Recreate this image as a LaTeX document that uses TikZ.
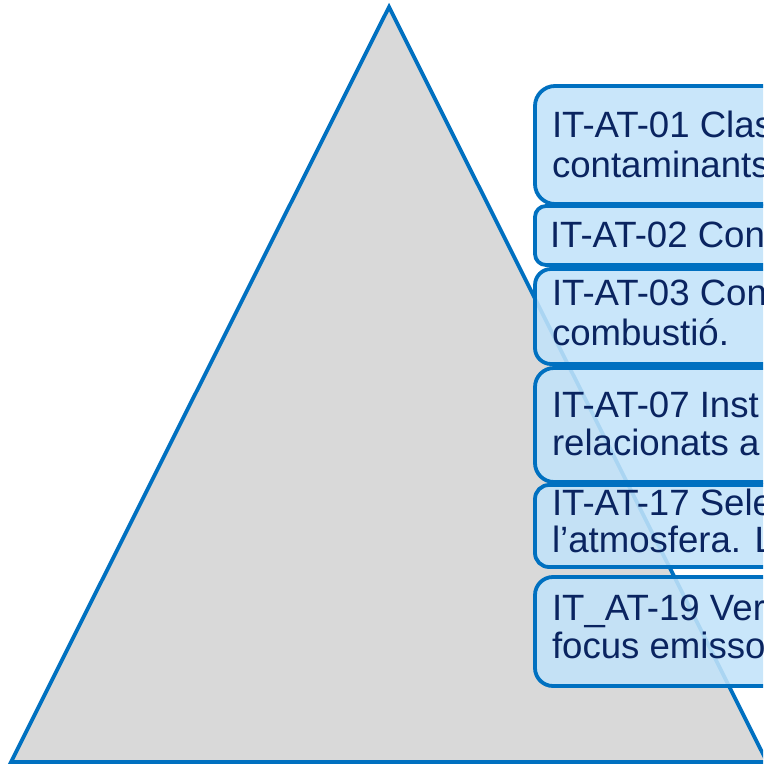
\documentclass[tikz,border=0pt]{standalone}
\usepackage{fontspec}
\setmainfont{Liberation Sans}
\definecolor{triblue}{HTML}{0070C0}
\definecolor{trigrey}{HTML}{D9D9D9}
\definecolor{boxfill}{HTML}{C2E3FA}
\definecolor{navy}{HTML}{0A2460}
\tikzset{
  boxnode/.style={draw=triblue, line width=3.8pt, fill=boxfill, fill opacity=0.88,
    draw opacity=1, inner sep=0pt, outer sep=0pt, anchor=north west, minimum width=300pt},
  txt/.style={anchor=base west, inner sep=0pt, outer sep=0pt, text=navy,
    font=\fontsize{36.6}{40}\selectfont}
}
\begin{document}
\begin{tikzpicture}[x=1pt,y=-1pt]
\useasboundingbox (0,0) rectangle (763,765);
\clip (0,0) rectangle (763,765);
\fill[white] (0,0) rectangle (763,765);
% pyramid
\coordinate (apex) at (389,7);
\coordinate (bl) at (11,762);
\coordinate (br) at (767,762);
\draw[triblue, fill=trigrey, line width=3.8pt, line join=miter] (apex) -- (bl) -- (br) -- cycle;
% boxes
\node[boxnode, rounded corners=20pt, minimum height=118pt] (b1) at (535,86) {};
\node[boxnode, rounded corners=11pt, minimum height=59pt] (b2) at (535,206) {};
\node[boxnode, rounded corners=16pt, minimum height=95pt] (b3) at (535,269) {};
\node[boxnode, rounded corners=19pt, minimum height=114pt] (b4) at (535,368) {};
\node[boxnode, rounded corners=14pt, minimum height=82pt] (b5) at (535,485) {};
\node[boxnode, rounded corners=18pt, minimum height=109pt] (b6) at (535,577) {};
% texts
\node[txt] (t1a) at (552,138) {IT-AT-01 Clas};
\node[txt] (t1b) at (552,177) {contaminants};
\node[txt] (t2a) at (550,247) {IT-AT-02 Con};
\node[txt] (t3a) at (552,305) {IT-AT-03 Con};
\node[txt] (t3b) at (552,345) {combustió.};
\node[txt] (t4a) at (552,417) {IT-AT-07 Inst};
\node[txt] (t4b) at (552,455) {relacionats a};
\node[txt] (t5a) at (552,515) {IT-AT-17 Sele};
\node[txt] (t5b) at (552,552) {l’atmosfera. L};
\node[txt] (t6a) at (552,620) {IT\_AT-19 Ver};
\node[txt] (t6b) at (552,658) {focus emisso};
\end{tikzpicture}
\end{document}
